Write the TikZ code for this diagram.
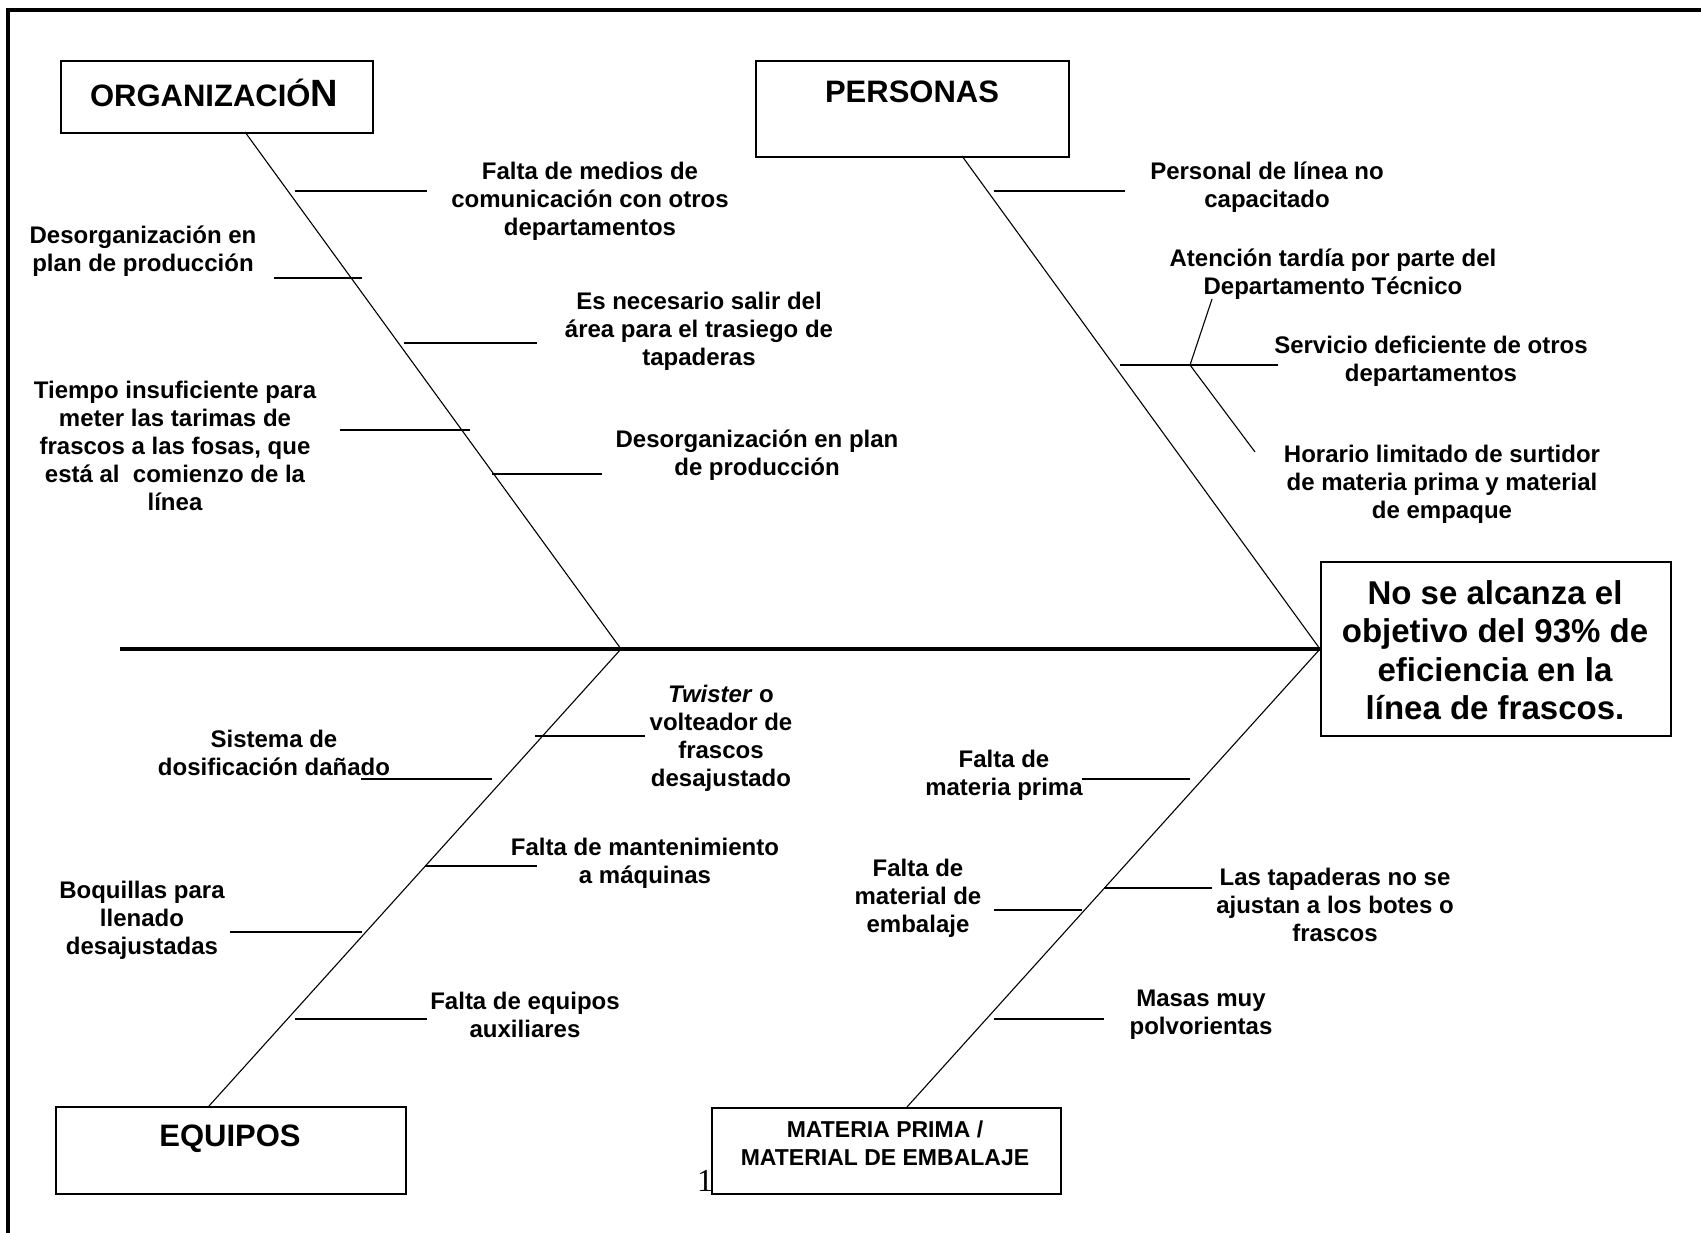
\documentclass[tikz,border=0pt]{standalone}
\usepackage{fontspec}
\setmainfont{Liberation Sans}
\newfontfamily\pgserif{Liberation Serif}
\begin{document}
\begin{tikzpicture}[x=1pt,y=-1pt,
  rib/.style={line width=1.6pt},
  bone/.style={line width=1.1pt},
  box/.style={draw,line width=2pt,inner sep=0,anchor=north west},
  cause/.style={align=center,inner sep=0,font=\fontsize{24}{28}\selectfont\bfseries},
  title/.style={inner sep=0,font=\fontsize{31}{36}\selectfont\bfseries}]
\useasboundingbox (0,0) rectangle (1701,1233);
% frame
\draw[line width=4pt] (8,1250) -- (8,10) -- (1720,10);
% boxes
\node[box,minimum width=312pt,minimum height=72pt] (org) at (60,60) {};
\node[box,minimum width=313pt,minimum height=96pt] (per) at (755,60) {};
\node[box,minimum width=350pt,minimum height=174pt] (eff) at (1320,561) {};
\node[box,minimum width=350pt,minimum height=87pt] (equ) at (55,1106) {};
\node[box,minimum width=349pt,minimum height=86pt] (mat) at (711,1107) {};
% titles
\node[title,anchor=base] (torg) at (214,107) {{\fontsize{31}{36}\selectfont ORGANIZACIÓ}{\fontsize{38}{40}\selectfont N}};
\node[title] (tper) at (912,92) {PERSONAS};
\node[title] (tequ) at (230,1139) {EQUIPOS};
\node[cause,font=\fontsize{23}{28}\selectfont\bfseries] (tmat) at (885,1143) {MATERIA PRIMA /\\MATERIAL DE EMBALAJE};
\node[align=center,inner sep=0,font=\fontsize{33}{38.5}\selectfont\bfseries] (teff) at (1495,650) {No se alcanza el\\objetivo del 93\% de\\eficiencia en la\\línea de frascos.};
\node[inner sep=0,font=\pgserif\fontsize{32}{36}\selectfont] (pg) at (705,1181) {1};
% bones
\coordinate (tail) at (120,649);
\coordinate (A1) at (621,649);
\coordinate (orgB) at (245,132);
\coordinate (perB) at (962,156);
\coordinate (equB) at (209,1106);
\coordinate (matB) at (907,1107);
\draw[line width=3.5pt] (tail) -- (eff.west);
\draw[bone] (orgB) -- (A1);
\draw[bone] (perB) -- (eff.west);
\draw[bone] (A1) -- (equB);
\draw[bone] (eff.west) -- (matB);
% ribs organizacion
\draw[rib] (295,191) -- (427,191);
\draw[rib] (274,278) -- (362,278);
\draw[rib] (404,343) -- (537,343);
\draw[rib] (340,430) -- (470,430);
\draw[rib] (492,474) -- (602,474);
% ribs personas
\draw[rib] (994,191) -- (1125,191);
\coordinate (J) at (1190,365);
\draw[rib] (1120,365) -- (1278,365);
\draw[bone] (J) -- (1212,299);
\draw[bone] (J) -- (1255,452);
% ribs equipos
\draw[rib] (535,736) -- (645,736);
\draw[rib] (361,779) -- (492,779);
\draw[rib] (425,866) -- (537,866);
\draw[rib] (230,932) -- (362,932);
\draw[rib] (295,1019) -- (427,1019);
% ribs materia
\draw[rib] (1082,779) -- (1190,779);
\draw[rib] (1104,888) -- (1212,888);
\draw[rib] (994,910) -- (1082,910);
\draw[rib] (994,1019) -- (1104,1019);
% causes
\node[cause] (o1) at (590,201) {Falta de medios de\\comunicación con otros\\departamentos};
\node[cause] (o2) at (143,251) {Desorganización en\\plan de producción};
\node[cause] (o3) at (699,331) {Es necesario salir del\\área para el trasiego de\\tapaderas};
\node[cause] (o4) at (175,446) {Tiempo insuficiente para\\meter las tarimas de\\frascos a las fosas, que\\está al\ \ comienzo de la\\línea};
\node[cause] (o5) at (757,455) {Desorganización en plan\\de producción};
\node[cause] (p1) at (1267,187) {Personal de línea no\\capacitado};
\node[cause] (p2) at (1333,274) {Atención tardía por parte del\\Departamento Técnico};
\node[cause] (p3) at (1431,361) {Servicio deficiente de otros\\departamentos};
\node[cause] (p4) at (1442,484) {Horario limitado de surtidor\\de materia prima y material\\de empaque};
\node[cause] (e1) at (721,738) {\textit{Twister} o\\volteador de\\frascos\\desajustado};
\node[cause] (e2) at (274,753) {Sistema de\\dosificación dañado};
\node[cause] (e3) at (645,863) {Falta de mantenimiento\\a máquinas};
\node[cause] (e4) at (142,920) {Boquillas para\\llenado\\desajustadas};
\node[cause] (e5) at (525,1015) {Falta de equipos\\auxiliares};
\node[cause] (m1) at (1004,775) {Falta de\\materia prima};
\node[cause] (m2) at (1335,905) {Las tapaderas no se\\ajustan a los botes o\\frascos};
\node[cause] (m3) at (918,898) {Falta de\\material de\\embalaje};
\node[cause] (m4) at (1201,1015) {Masas muy\\polvorientas};
\end{tikzpicture}
\end{document}
